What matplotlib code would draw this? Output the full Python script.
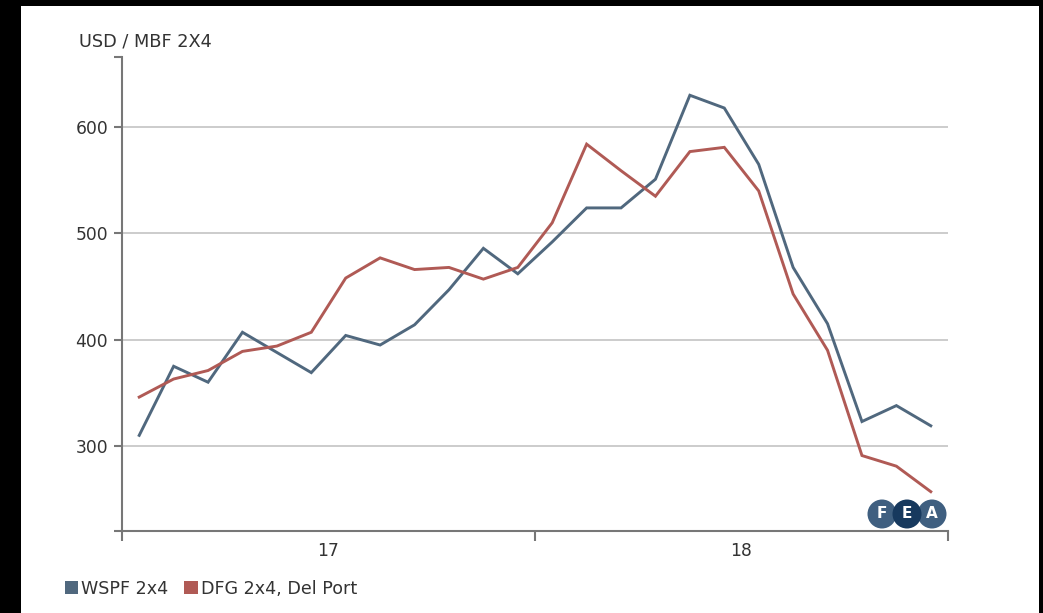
import matplotlib
matplotlib.use('Agg')
import matplotlib.pyplot as plt
from matplotlib.patches import Rectangle, Circle, Patch

# monthly prices, Jan 2017 .. Dec 2018 (USD / MBF)
months = list(range(24))
wspf = [310, 375, 360, 407, 388, 369, 404, 395, 414, 447, 486, 462,
        492, 524, 524, 551, 630, 618, 565, 468, 415, 323, 338, 319]
dfg = [346, 363, 371, 389, 394, 407, 458, 477, 466, 468, 457, 468,
       510, 584, 559, 535, 577, 581, 540, 443, 390, 291, 281, 257]
year_labels = ['17', '18']
y_ticks = [300, 400, 500, 600]

C_WSPF = '#50687e'
C_DFG = '#b05a55'
AXIS = '#777777'
GRID = '#c4c4c4'
TXT = '#333333'
FS = 12.3
W, H = 1043, 613

fig = plt.figure(figsize=(W / 100, H / 100), dpi=100, facecolor='black')
# white panel inside the black frame
fig.patches.append(Rectangle((21 / W, 0), 1018 / W, 607 / H, transform=fig.transFigure,
                             facecolor='white', edgecolor='none', zorder=-10))

ax = fig.add_axes([122 / W, (H - 531) / H, (948 - 122) / W, (531 - 57) / H])
ax.set_facecolor('none')

ax.plot(months, wspf, color=C_WSPF, lw=2.1, solid_joinstyle='miter', zorder=3)
ax.plot(months, dfg, color=C_DFG, lw=2.1, solid_joinstyle='miter', zorder=3)

ax.set_xlim(-0.5, 23.5)
ax.set_ylim(220, 666)

for v in y_ticks:
    ax.axhline(v, color=GRID, lw=1.2, zorder=1)

for s in ['top', 'right']:
    ax.spines[s].set_visible(False)
for s in ['left', 'bottom']:
    ax.spines[s].set_color(AXIS)
    ax.spines[s].set_linewidth(1.5)

# y axis: ticks at values plus outer ticks at the domain ends
ax.set_yticks(y_ticks)
ax.set_yticklabels([str(v) for v in y_ticks])
ax.set_yticks([220, 666], minor=True)
ax.tick_params(axis='y', which='both', length=6, width=1.5, color=AXIS,
               labelsize=FS, labelcolor=TXT, pad=4)

# x axis: year boundaries as ticks, year labels centred in each year
ax.set_xticks([-0.5, 11.5, 23.5])
ax.set_xticklabels([])
ax.set_xticks([5.5, 17.5], minor=True)
ax.set_xticklabels(year_labels, minor=True)
ax.tick_params(axis='x', which='major', length=7, width=1.5, color=AXIS)
ax.tick_params(axis='x', which='minor', length=0, labelsize=FS,
               labelcolor=TXT, pad=8)

fig.text(79 / W, (H - 41) / H, 'USD / MBF 2X4', fontsize=FS + 0.5, color=TXT,
         ha='left', va='center')

# legend
handles = [Patch(facecolor=C_WSPF, edgecolor='none'),
           Patch(facecolor=C_DFG, edgecolor='none')]
fig.legend(handles, ['WSPF 2x4', 'DFG 2x4, Del Port'], loc='center left',
           bbox_to_anchor=(49 / W, (H - 589) / H), ncol=2, frameon=False,
           fontsize=FS + 0.3, handlelength=0.75, handleheight=0.75,
           handletextpad=0.2, columnspacing=0.9, labelcolor=TXT)

# FEA logo
logo = [('F', 882, '#3f5f80'), ('A', 932, '#3f5f80'), ('E', 907, '#17395e')]
for ch, cx, col in logo:
    fig.patches.append(Circle((cx / 100, (H - 514) / 100), 0.145,
                              transform=fig.dpi_scale_trans, facecolor=col,
                              edgecolor='none', zorder=5))
    fig.text(cx / W, (H - 514) / H, ch, color='white', fontsize=11,
             fontweight='bold', ha='center', va='center', zorder=6)

fig.savefig('out.png', dpi=100, facecolor='black')
